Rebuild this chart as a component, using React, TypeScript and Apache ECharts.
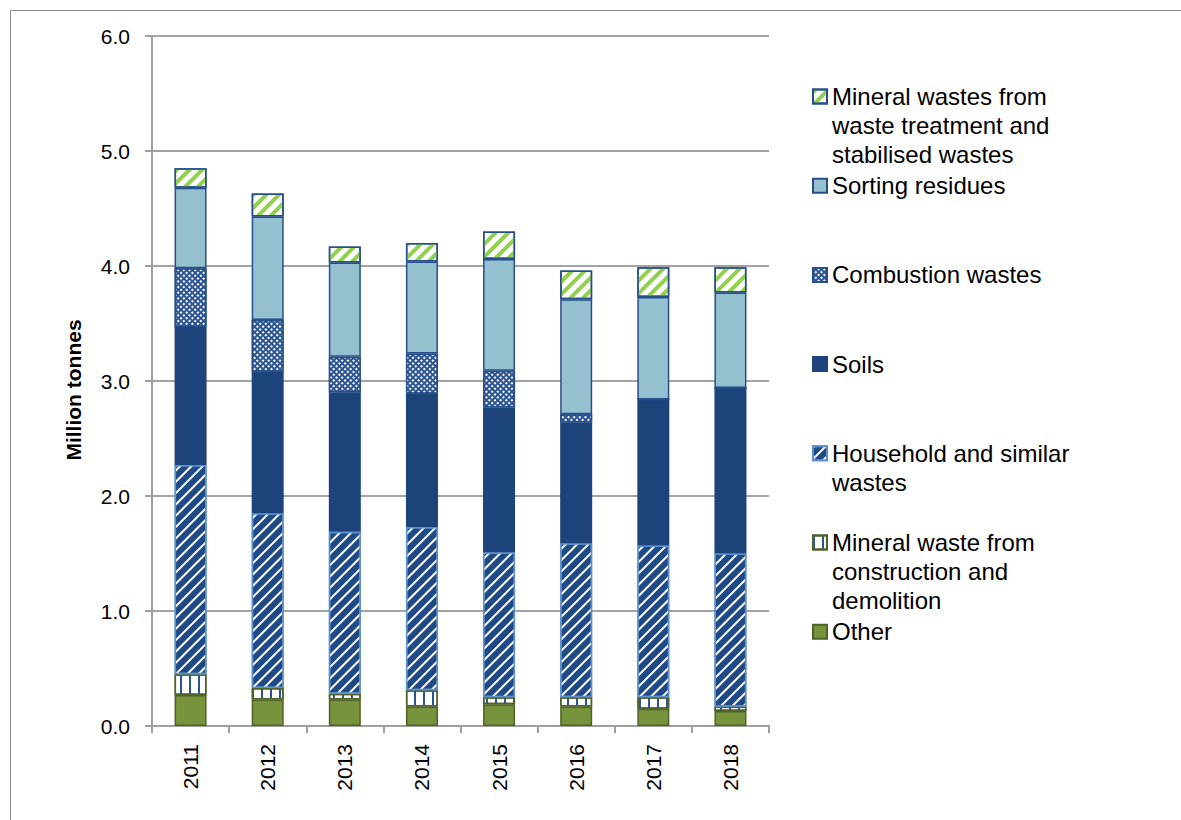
import React, { useEffect, useRef } from 'react';
import * as echarts from 'echarts';

const years = ['2011', '2012', '2013', '2014', '2015', '2016', '2017', '2018'];
const other = [0.27, 0.23, 0.23, 0.17, 0.19, 0.17, 0.15, 0.13];
const mineralCD = [0.18, 0.1, 0.05, 0.14, 0.06, 0.08, 0.1, 0.04];
const household = [1.82, 1.52, 1.41, 1.42, 1.26, 1.34, 1.32, 1.33];
const soils = [1.2, 1.23, 1.21, 1.16, 1.26, 1.05, 1.27, 1.44];
const combustion = [0.51, 0.45, 0.31, 0.35, 0.32, 0.07, 0, 0];
const sorting = [0.7, 0.9, 0.82, 0.8, 0.97, 1.0, 0.89, 0.83];
const mineralTreatment = [0.17, 0.2, 0.14, 0.16, 0.24, 0.25, 0.26, 0.22];

const NAME_MT = 'Mineral wastes from waste treatment and stabilised wastes';
const NAME_SORT = 'Sorting residues';
const NAME_COMB = 'Combustion wastes';
const NAME_SOILS = 'Soils';
const NAME_HH = 'Household and similar wastes';
const NAME_CD = 'Mineral waste from construction and demolition';
const NAME_OTHER = 'Other';

const legendOrder = [NAME_MT, NAME_SORT, NAME_COMB, NAME_SOILS, NAME_HH, NAME_CD, NAME_OTHER];
const legendLines: Record<string, string[]> = {
  [NAME_MT]: ['Mineral wastes from', 'waste treatment and', 'stabilised wastes'],
  [NAME_SORT]: ['Sorting residues'],
  [NAME_COMB]: ['Combustion wastes'],
  [NAME_SOILS]: ['Soils'],
  [NAME_HH]: ['Household and similar', 'wastes'],
  [NAME_CD]: ['Mineral waste from', 'construction and', 'demolition'],
  [NAME_OTHER]: ['Other'],
};

const FONT = "'Liberation Sans', Arial, sans-serif";
const LINE_H = 29;

export default function App() {
  const ref = useRef<HTMLDivElement>(null);
  useEffect(() => {
    document.body.style.margin = '0';
    if (!ref.current) return;
    const chart = echarts.init(ref.current, undefined, { renderer: 'svg' });
    const mk = (name: string, data: number[], color: string, borderColor: string, decal?: any) => ({
      name,
      type: 'bar',
      stack: 'total',
      data,
      barWidth: 32,
      itemStyle: { color, borderColor, borderWidth: 1.5, decal },
      emphasis: { disabled: true },
    });
    // one legend per item so that the icon sits beside the first text line
    const firstIconCenter = 96.5;
    const iconStep = 89.2;
    const legends = legendOrder.map((name, i) => {
      const lines = legendLines[name];
      const pad = new Array(lines.length - 1).fill('');
      const text = [...pad, ...lines].join('\n');
      const nLines = lines.length * 2 - 1;
      const h = Math.max(nLines * LINE_H, 14);
      return {
        orient: 'vertical',
        left: 812,
        top: firstIconCenter + i * iconStep - h / 2,
        padding: 0,
        itemWidth: 14,
        itemHeight: 14,
        icon: 'rect',
        selectedMode: false,
        data: [name],
        formatter: () => text,
        textStyle: { fontSize: 24, fontFamily: FONT, color: '#000', lineHeight: LINE_H },
      };
    });
    chart.setOption({
      animation: false,
      graphic: [
        {
          type: 'rect',
          silent: true,
          shape: { x: 10.5, y: 10.5, width: 1300, height: 900 },
          style: { fill: 'none', stroke: '#8c8c8c', lineWidth: 1 },
        },
      ],
      grid: { left: 152, right: 412, top: 36, bottom: 94, containLabel: false },
      legend: legends,
      xAxis: {
        type: 'category',
        data: years,
        axisLine: { lineStyle: { color: '#9f9f9f', width: 2 } },
        axisTick: { show: true, length: 7, lineStyle: { color: '#9f9f9f', width: 2 } },
        axisLabel: { rotate: 90, fontSize: 21, fontFamily: FONT, color: '#000', margin: 18 },
      },
      yAxis: {
        type: 'value',
        min: 0,
        max: 6,
        interval: 1,
        name: 'Million tonnes',
        nameLocation: 'middle',
        nameGap: 68,
        nameRotate: 90,
        nameTextStyle: { fontSize: 21, fontWeight: 'bold', fontFamily: FONT, color: '#000', padding: [0, 18, 0, 0] },
        axisLine: { show: true, lineStyle: { color: '#9f9f9f', width: 2 } },
        axisTick: { show: true, length: 7, lineStyle: { color: '#9f9f9f', width: 2 } },
        axisLabel: { fontSize: 21, fontFamily: FONT, color: '#000', margin: 22, formatter: (v: number) => v.toFixed(1) },
        splitLine: { lineStyle: { color: '#a3a3a3', width: 2 } },
      },
      series: [
        mk(NAME_OTHER, other, '#77933c', '#4f6228'),
        mk(NAME_CD, mineralCD, '#ffffff', '#4f6228', {
          color: '#2a5590', symbol: 'rect', symbolSize: 1, dashArrayX: [2, 7], dashArrayY: [1, 0], rotation: 0,
        }),
        mk(NAME_HH, household, '#1f4a85', '#5b8fd0', {
          color: '#ffffff', symbol: 'rect', symbolSize: 1, dashArrayX: [1, 0], dashArrayY: [2, 6], rotation: -Math.PI / 4,
        }),
        mk(NAME_SOILS, soils, '#1d437b', '#1d437b'),
        mk(NAME_COMB, combustion, '#2c5592', '#254e8a', {
          color: '#ffffff', symbol: 'rect', symbolSize: 1, dashArrayX: [2, 2], dashArrayY: [2, 2], rotation: Math.PI / 4,
        }),
        mk(NAME_SORT, sorting, '#95c0d0', '#254e8a'),
        mk(NAME_MT, mineralTreatment, '#ffffff', '#254e8a', {
          color: '#92d050', symbol: 'rect', symbolSize: 1, dashArrayX: [1, 0], dashArrayY: [4, 5], rotation: -Math.PI / 4,
        }),
      ],
    });
    return () => chart.dispose();
  }, []);
  return <div ref={ref} style={{ width: 1181, height: 820 }} />;
}
